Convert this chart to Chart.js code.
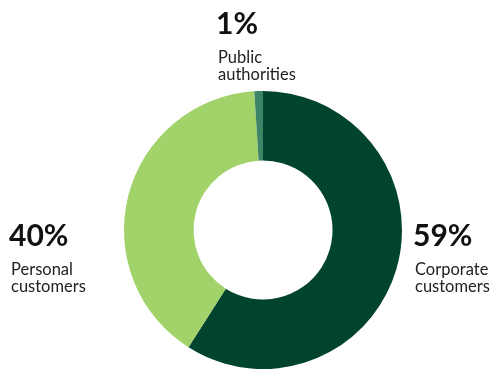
<!DOCTYPE html>
<html>
<head>
<meta charset="utf-8">
<style>
  html, body { margin: 0; padding: 0; background: #ffffff; overflow: hidden; }
  #wrap { width: 492px; height: 380px; }
</style>
<script src="https://cdn.jsdelivr.net/npm/chart.js@4/dist/chart.umd.min.js"></script>
</head>
<body>
<div id="wrap"><canvas id="c" width="492" height="380"></canvas></div>
<script>
// Customer segments, share of total (%)
const categories = ['Corporate customers', 'Personal customers', 'Public authorities'];
const shares = [59, 40, 1];
const labelLines = [['Corporate', 'customers'], ['Personal', 'customers'], ['Public', 'authorities']];
const colors = ['#00432f', '#a2d26a', '#3d8566'];

// Where each segment's caption sits: [x, baseline of the percentage]
const captionPos = [[414, 246], [10, 246], [217, 34]];

const captionPlugin = {
  id: 'captions',
  afterDraw(chart) {
    const ctx = chart.ctx;
    ctx.save();
    ctx.textAlign = 'left';
    ctx.textBaseline = 'alphabetic';
    shares.forEach((v, i) => {
      const [x, y] = captionPos[i];
      ctx.fillStyle = '#111111';
      ctx.font = 'bold 30px Lato, "Open Sans", sans-serif';
      ctx.fillText(v + '%', x - 1, y);
      ctx.fillStyle = '#222222';
      ctx.font = '400 16.5px Lato, "Open Sans", sans-serif';
      labelLines[i].forEach((line, j) => {
        ctx.fillText(line, x + 1, y + 29 + j * 17);
      });
    });
    ctx.restore();
  }
};

new Chart(document.getElementById('c'), {
  type: 'doughnut',
  data: {
    labels: categories,
    datasets: [{
      data: shares,
      backgroundColor: colors,
      borderWidth: 0,
      hoverOffset: 0
    }]
  },
  options: {
    responsive: false,
    animation: false,
    cutout: '50%',
    layout: { padding: { left: 124, right: 90, top: 91, bottom: 11 } },
    plugins: {
      legend: { display: false },
      tooltip: { enabled: false }
    }
  },
  plugins: [captionPlugin]
});
</script>
</body>
</html>
